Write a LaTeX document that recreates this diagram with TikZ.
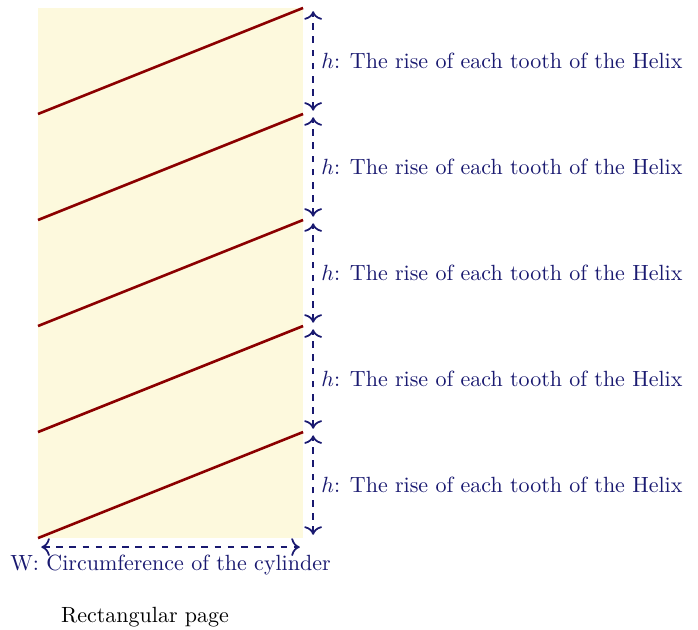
\documentclass[tikz,border=0pt]{standalone}
\usepackage{tikz}
\usetikzlibrary{arrows.meta}
\definecolor{pagefill}{RGB}{253,249,221}
\definecolor{helixred}{RGB}{139,0,0}
\definecolor{dimblue}{RGB}{25,25,112}
\begin{document}
\begin{tikzpicture}[x=0.847cm,y=0.847cm,
    dimline/.style={dimblue,thick,dashed,{To[scale=1.15]}-{To[scale=1.15]},shorten >=1.5pt,shorten <=1.5pt},
    dimtext/.style={text=dimblue}]
    \useasboundingbox (-0.717,-1.717) rectangle (12.45,10.15);
    \fill[pagefill] (0,0) rectangle (5,10);
    \foreach \k in {0,...,4} {
        \pgfmathtruncatemacro{\lo}{2*\k}
        \pgfmathtruncatemacro{\hi}{2*\k+2}
        \draw[helixred,very thick] (0,\lo) -- (5,\hi);
        \coordinate (rise\k lo) at (5.19,\lo);
        \coordinate (rise\k hi) at (5.19,\hi);
        \draw[dimline] (rise\k lo) -- (rise\k hi)
            node[midway,right,dimtext] (rise\k) {$h$: The rise of each tooth of the Helix};
    }
    \coordinate (wleft) at (0,-0.17);
    \coordinate (wright) at (5,-0.17);
    \draw[dimline] (wleft) -- (wright)
        node[midway,below,dimtext] (width) {W: Circumference of the cylinder};
    \node (caption) at (2.02,-1.5) {Rectangular page};
\end{tikzpicture}
\end{document}
